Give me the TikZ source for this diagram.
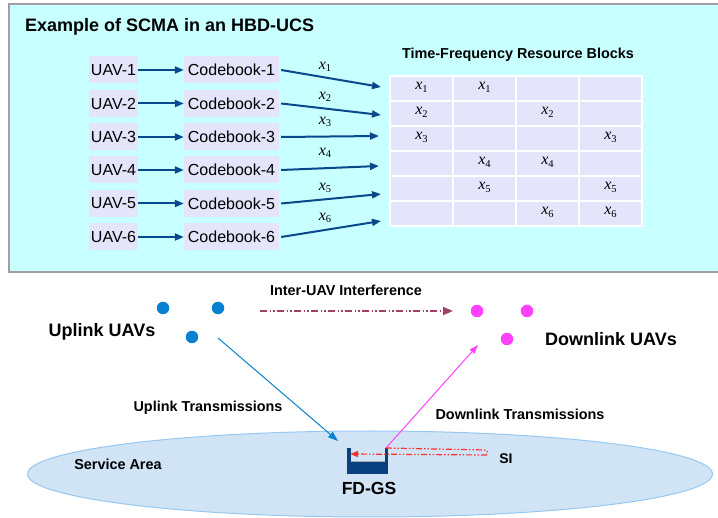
\documentclass[tikz,border=0pt]{standalone}
\usepackage{fontspec}
\setmainfont{Liberation Sans}
\newfontfamily\tms{Liberation Serif}
\usetikzlibrary{arrows.meta,shapes.geometric}
\definecolor{panelcyan}{RGB}{200,255,255}
\definecolor{panelgray}{RGB}{160,160,160}
\definecolor{lav}{RGB}{228,228,250}
\definecolor{navy}{RGB}{10,72,140}
\definecolor{upblue}{RGB}{10,128,210}
\definecolor{dnpink}{RGB}{255,64,255}
\definecolor{plum}{RGB}{160,64,104}
\definecolor{sired}{RGB}{255,48,48}
\definecolor{areafill}{RGB}{208,228,245}
\definecolor{areaedge}{RGB}{150,200,240}
\definecolor{gsnavy}{RGB}{8,64,128}
% symbol x_i in Times style
\newcommand\xsym[1]{{\tms\fontsize{16}{16}\selectfont\itshape x}\raisebox{-0.45ex}{\tms\fontsize{10.5}{10.5}\selectfont #1}}
\tikzset{
  uavbox/.style={fill=lav, minimum width=49pt, minimum height=27pt, inner sep=0pt, font=\fontsize{16}{16}\selectfont},
  cbbox/.style={fill=lav, minimum width=95pt, minimum height=27pt, inner sep=0pt, font=\fontsize{16}{16}\selectfont},
  feed/.style={draw=navy, line width=2pt, -{Triangle[length=9pt,width=7pt]}},
  cell/.style={fill=lav, draw=white, line width=1.2pt, minimum width=63pt, minimum height=25pt, inner sep=0pt},
  bold/.style={font=\bfseries\fontsize{14.4}{14.4}\selectfont, inner sep=0pt},
  big/.style={font=\bfseries\fontsize{18}{18}\selectfont, inner sep=0pt},
  dot/.style={circle, minimum size=12.5pt, inner sep=0pt},
}
\begin{document}
\begin{tikzpicture}[x=1pt,y=-1pt]
\useasboundingbox (0,0) rectangle (718,518);
% upper panel
\fill[panelcyan] (9,4) rectangle (720,272);
\draw[panelgray, line width=1.2pt] (720,4) -- (9,4) -- (9,272) -- (720,272);
\node[big, anchor=west] (title) at (25,27) {Example of SCMA in an HBD-UCS};

% users and codebooks
\foreach \i/\y in {1/70,2/103.5,3/137,4/170,5/203.5,6/237}{
  \node[uavbox] (u\i) at (113.5,\y) {UAV-\i};
  \node[cbbox] (c\i) at (231.5,\y) {Codebook-\i};
  \draw[feed] (u\i) -- (c\i);
}

% resource grid
\node[bold] (tfrb) at (518,55) {Time-Frequency Resource Blocks};
\foreach \r in {1,...,6}{
  \foreach \c in {1,...,4}{
    \node[cell] (g\r\c) at ({390+63*(\c-0.5)},{76+25*(\r-0.5)}) {};
  }
}
\foreach \r/\c in {1/1,1/2,2/1,2/3,3/1,3/4,4/2,4/3,5/2,5/4,6/3,6/4}{
  \node[inner sep=0pt] at ([yshift=1pt]g\r\c) {\xsym{\r}};
}

% codeword arrows into the grid
\coordinate (e1) at (381,87);
\coordinate (e2) at (381,115);
\coordinate (e3) at (379,136);
\coordinate (e4) at (379,166);
\coordinate (e5) at (381,194);
\coordinate (e6) at (381,221);
\foreach \i in {1,...,6}{
  \draw[feed] ([xshift=2pt]c\i.east) -- (e\i);
}
\foreach \i/\y in {1/67,2/97,3/122,4/153,5/188,6/218}{
  \node[inner sep=0pt] (l\i) at (325,\y) {\xsym{\i}};
}

% service area
\node[ellipse, draw=areaedge, fill=areafill, line width=1pt, minimum width=685pt, minimum height=86pt, inner sep=0pt] (area) at (370,474) {};
\node[bold] (sa) at (118,464) {Service Area};

% uplink and downlink UAVs
\node[dot, fill=upblue] (ua) at (163,308) {};
\node[dot, fill=upblue] (ub) at (218,308) {};
\node[dot, fill=upblue] (uc) at (192,337) {};
\node[dot, fill=dnpink] (da) at (477,311) {};
\node[dot, fill=dnpink] (db) at (527,311) {};
\node[dot, fill=dnpink] (dc) at (507,339) {};
\node[big] (ul) at (102,332) {Uplink UAVs};
\node[big] (dl) at (611,339) {Downlink UAVs};

% inter-UAV interference
\coordinate (ia) at (260,311);
\coordinate (ib) at (453,311);
\draw[plum, line width=1.6pt, dash pattern=on 7pt off 2.5pt on 1.5pt off 2pt on 1.5pt off 2.5pt, -{Triangle[length=10pt,width=8pt]}] (ia) -- (ib);
\node[bold] (il) at (346,290) {Inter-UAV Interference};

% ground station
\fill[gsnavy] (347,461) rectangle (388,474);
\fill[gsnavy] (347,448) rectangle (350.5,461);
\fill[gsnavy] (384.5,448) rectangle (388,461);
\draw[gray!70, line width=0.6pt] (350.5,461) -- (384.5,461);
\coordinate (gsl) at (350,454);
\coordinate (gsr) at (386,448);
\coordinate (gsin) at (338,441);
\node[font=\bfseries\fontsize{17.5}{17.5}\selectfont, inner sep=0pt] (gs) at (369,488) {FD-GS};

% links
\coordinate (upst) at (218,338);
\coordinate (dnend) at (478,345);
\draw[upblue, line width=1pt, -{Triangle[length=10pt,width=7pt]}] (upst) -- (gsin);
\draw[dnpink, line width=1pt, -{Triangle[length=9pt,width=6pt]}] (gsr) -- (dnend);
\node[bold] (utx) at (208,408) {Uplink Transmissions};
\node[bold] (dtx) at (520,414) {Downlink Transmissions};

% self-interference loop
\draw[sired, line width=1.2pt, dash pattern=on 6pt off 2pt on 1.5pt off 2pt on 1.5pt off 2pt, -{Triangle[length=8pt,width=6pt]}]
  (gsr) -- (486,450) to[out=0,in=0] (486,455) -- (gsl);
\node[font=\bfseries\fontsize{14}{14}\selectfont, inner sep=0pt] (si) at (506,459) {SI};
\end{tikzpicture}
\end{document}
